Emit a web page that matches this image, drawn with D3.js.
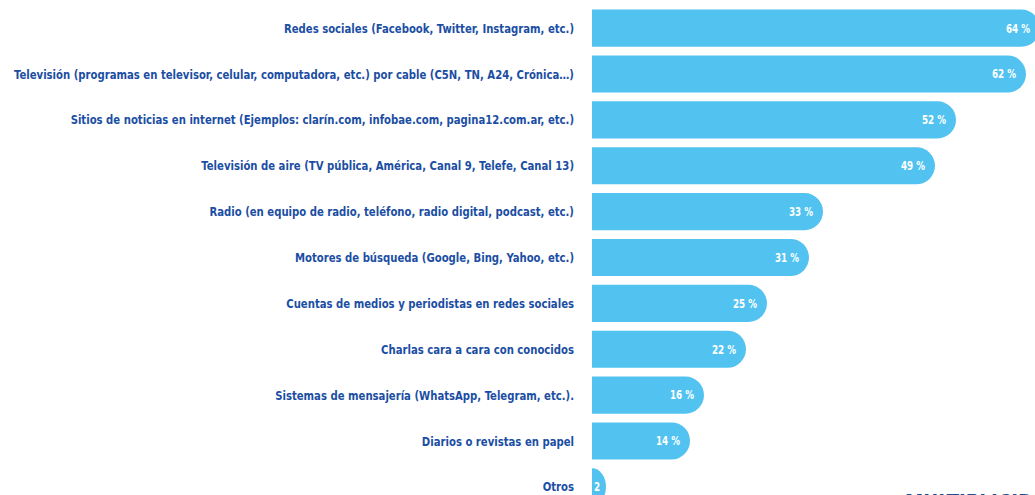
<!DOCTYPE html>
<html>
<head>
<meta charset="utf-8">
<script src="https://d3js.org/d3.v7.min.js"></script>
<style>
  body { margin: 0; background: #fff; }
  .label { font: bold 13px "DejaVu Sans Condensed", sans-serif; fill: #1b4ea3; }
  .value { font: bold 12.5px "DejaVu Sans Condensed", sans-serif; fill: #fff; }
</style>
</head>
<body>
<svg width="1035" height="495"></svg>
<script>
var categories = [
  "Redes sociales (Facebook, Twitter, Instagram, etc.)",
  "Televisión (programas en televisor, celular, computadora, etc.) por cable (C5N, TN, A24, Crónica…)",
  "Sitios de noticias en internet (Ejemplos: clarín.com, infobae.com, pagina12.com.ar, etc.)",
  "Televisión de aire (TV pública, América, Canal 9, Telefe, Canal 13)",
  "Radio (en equipo de radio, teléfono, radio digital, podcast, etc.)",
  "Motores de búsqueda (Google, Bing, Yahoo, etc.)",
  "Cuentas de medios y periodistas en redes sociales",
  "Charlas cara a cara con conocidos",
  "Sistemas de mensajería (WhatsApp, Telegram, etc.).",
  "Diarios o revistas en papel",
  "Otros"
];
var values = [64, 62, 52, 49, 33, 31, 25, 22, 16, 14, 2];

var svg = d3.select("svg");

var x = d3.scaleLinear().domain([0, 10]).range([592, 662]);
var y = d3.scaleBand().domain(categories).range([5, 510]).paddingInner(0.19).paddingOuter(0.1);

function barPath(x0, x1, y0, h) {
  var w = x1 - x0, r = h / 2, rx = Math.min(r, w);
  return "M" + x0 + "," + y0 +
    "H" + (x1 - rx) +
    "A" + rx + "," + r + " 0 0 1 " + (x1 - rx) + "," + (y0 + h) +
    "H" + x0 + "Z";
}

// la fuente original es condensada: comprimimos el texto a lo ancho
function squeeze(sel, k) {
  sel.each(function() {
    var w = this.getComputedTextLength();
    d3.select(this).attr("textLength", w * k).attr("lengthAdjust", "spacingAndGlyphs");
  });
}

var rows = svg.selectAll(".row")
  .data(categories)
  .enter().append("g")
  .attr("class", "row");

rows.append("path")
  .attr("fill", "#52c3f0")
  .attr("d", function(d, i) { return barPath(x(0), x(values[i]), y(d), y.bandwidth()); });

rows.append("text")
  .attr("class", "label")
  .attr("x", 574)
  .attr("y", function(d) { return y(d) + y.bandwidth() / 2; })
  .attr("dy", "0.35em")
  .attr("text-anchor", "end")
  .text(function(d) { return d; })
  .call(squeeze, 0.863);

rows.append("text")
  .attr("class", "value")
  .attr("x", function(d, i) { return values[i] < 5 ? x(0) + 2 : x(values[i]) - 10; })
  .attr("y", function(d) { return y(d) + y.bandwidth() / 2; })
  .attr("dy", "0.35em")
  .attr("text-anchor", function(d, i) { return values[i] < 5 ? "start" : "end"; })
  .text(function(d, i) { return values[i] < 5 ? values[i] : values[i] + " %"; })
  .call(squeeze, 0.78);

// titulo cortado abajo a la derecha
svg.append("text")
  .attr("x", 905)
  .attr("y", 512)
  .style("font", "bold 24px 'DejaVu Sans Condensed', sans-serif")
  .style("fill", "#1d4f91")
  .text("MULTIPLICIDAD")
  .call(squeeze, 0.85);
</script>
</body>
</html>
